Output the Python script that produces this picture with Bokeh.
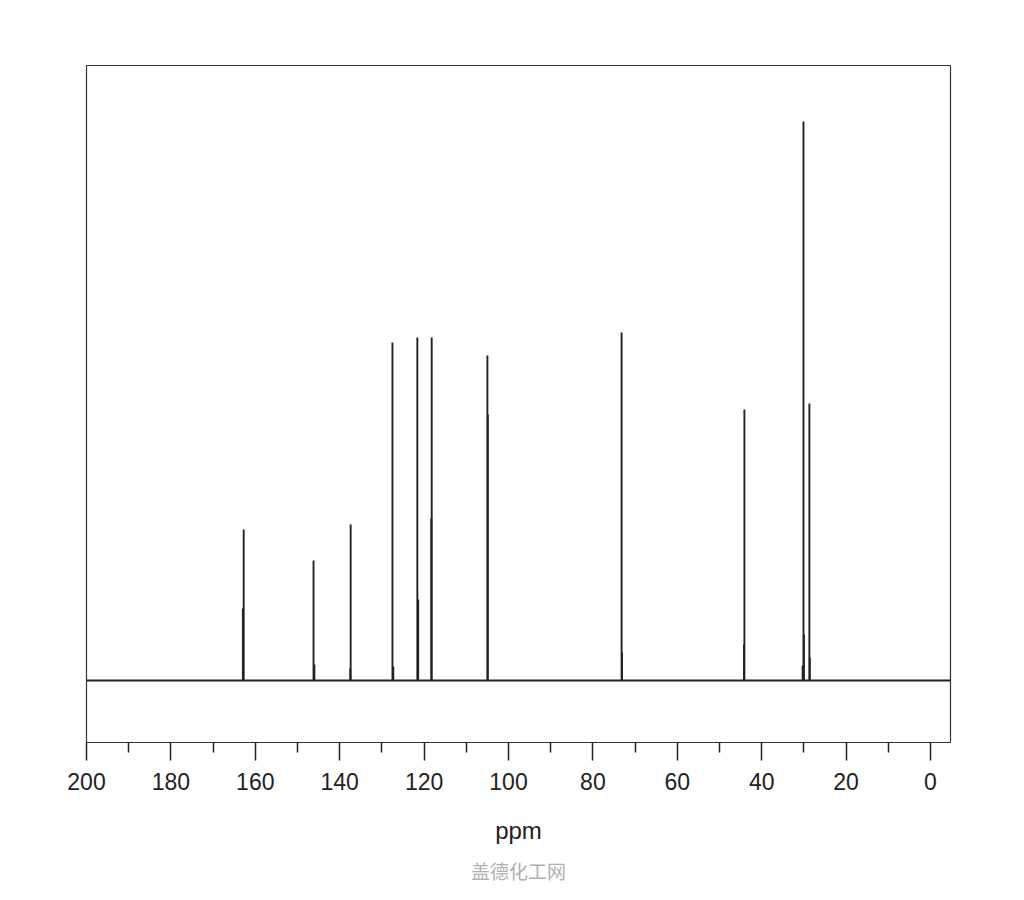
from bokeh.plotting import figure
from bokeh.models import Range1d, Span, FixedTicker, Title
from bokeh.embed import file_html
from bokeh.resources import INLINE

# Peak positions (ppm) and relative heights
peak_ppm = [162.75, 162.95, 146.2, 146.0, 137.4, 137.5, 127.5, 127.3,
            121.6, 121.4, 118.2, 118.3, 105.0, 104.9, 73.2, 73.1,
            44.1, 44.2, 30.1, 30.0, 30.3, 28.7, 28.6]
peak_height = [151, 72, 120, 16, 156, 12, 338, 14,
               343, 81, 343, 162, 325, 266, 348, 28,
               271, 36, 559, 46, 15, 277, 23]
baseline = [0] * len(peak_ppm)

major_ticks = [200, 180, 160, 140, 120, 100, 80, 60, 40, 20, 0]
minor_ticks = [190, 170, 150, 130, 110, 90, 70, 50, 30, 10]

p = figure(frame_width=864, frame_height=677,
           x_range=Range1d(200, -4.74), y_range=Range1d(-62, 615),
           output_backend="svg", toolbar_location=None,
           min_border_left=86, min_border_top=65, min_border_right=50,
           background_fill_color="white", border_fill_color="white")

p.outline_line_color = "#333333"
p.outline_line_width = 1.2
p.xgrid.visible = False
p.ygrid.visible = False
p.yaxis.visible = False

ax = p.xaxis[0]
ax.ticker = FixedTicker(ticks=major_ticks, minor_ticks=minor_ticks)
ax.major_tick_out = 18
ax.major_tick_in = 0
ax.minor_tick_out = 10
ax.minor_tick_in = 0
ax.major_tick_line_color = "#222222"
ax.major_tick_line_width = 1.5
ax.minor_tick_line_color = "#222222"
ax.minor_tick_line_width = 1.5
ax.axis_line_color = "#333333"
ax.axis_line_width = 1.2
ax.major_label_text_font = "Liberation Sans"
ax.major_label_text_font_size = "23px"
ax.major_label_text_color = "#222222"
ax.major_label_standoff = 12
ax.axis_label = "ppm"
ax.axis_label_text_font = "Liberation Sans"
ax.axis_label_text_font_size = "24px"
ax.axis_label_text_font_style = "normal"
ax.axis_label_text_color = "#222222"
ax.axis_label_standoff = 24

p.add_layout(Span(location=0, dimension="width", line_color="#222222", line_width=1.8))
p.segment(x0=peak_ppm, y0=baseline, x1=peak_ppm, y1=peak_height,
          line_color="#222222", line_width=1.9)

p.add_layout(Title(text="盖德化工网", align="center", text_font="Noto Sans CJK SC",
                   text_font_size="19px", text_color="#b0b0b0", text_font_style="normal",
                   standoff=16), "below")

open("out.html", "w").write(file_html(p, INLINE))
